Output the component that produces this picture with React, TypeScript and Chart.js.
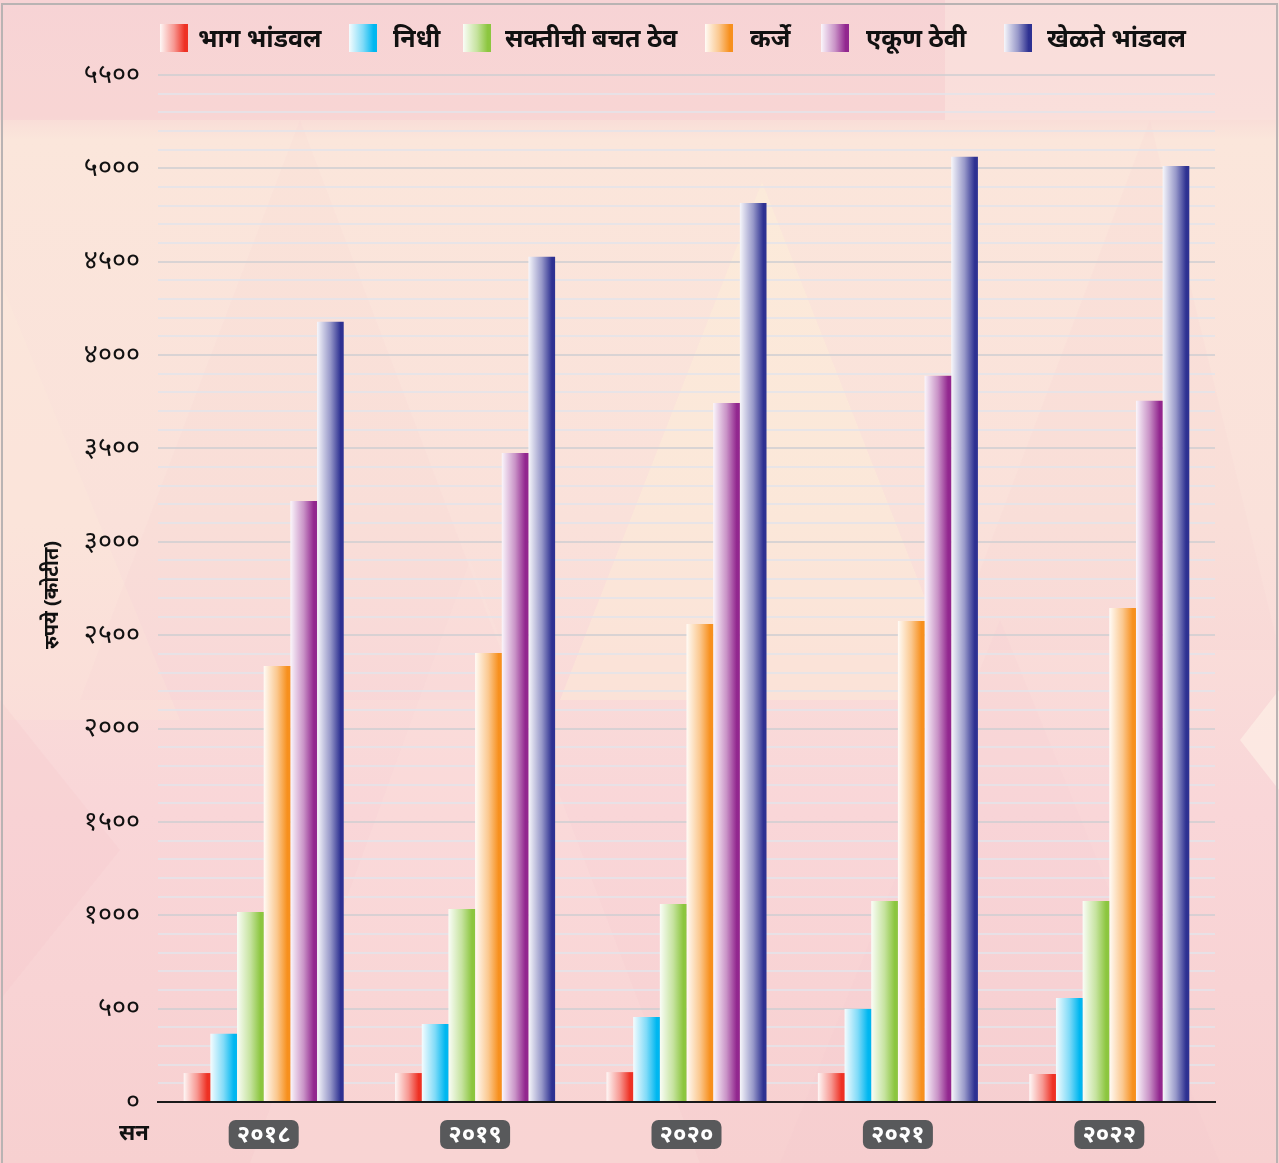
import React, { useEffect, useRef } from "react";
import { Chart, registerables } from "chart.js";

Chart.register(...registerables);

// ---- data ----
const categories = ["२०१८", "२०१९", "२०२०", "२०२१", "२०२२"];
const seriesNames = ["भाग भांडवल", "निधी", "सक्तीची बचत ठेव", "कर्जे", "एकूण ठेवी", "खेळते भांडवल"];
const shareCapital = [155, 155, 160, 155, 150];
const funds = [365, 418, 455, 498, 557];
const compulsorySavings = [1018, 1034, 1060, 1077, 1077];
const loans = [2335, 2405, 2560, 2576, 2646];
const totalDeposits = [3219, 3476, 3744, 3889, 3755];
const workingCapital = [4178, 4526, 4815, 5062, 5013];
const seriesColors = ["#ee3124", "#00b7f0", "#8cc63f", "#f7901e", "#92278f", "#2e3192"];
const yTickValues = [0, 500, 1000, 1500, 2000, 2500, 3000, 3500, 4000, 4500, 5000, 5500];
const yTickLabels = ["०", "५००", "१०००", "१५००", "२०००", "२५००", "३०००", "३५००", "४०००", "४५००", "५०००", "५५००"];
const yAxisTitle = "रुपये (कोटीत)";
const xAxisTitle = "सन";

const W = 1279;
const H = 1163;
const CAT_PCT = 0.757;
const FONT = "'Noto Sans', 'DejaVu Sans', sans-serif";

function mix(hex: string, t: number) {
  const r = parseInt(hex.slice(1, 3), 16);
  const g = parseInt(hex.slice(3, 5), 16);
  const b = parseInt(hex.slice(5, 7), 16);
  const m = (c: number) => Math.round(255 + (c - 255) * t);
  return `rgb(${m(r)},${m(g)},${m(b)})`;
}

function gradFill(ctx: CanvasRenderingContext2D, left: number, w: number, color: string) {
  const g = ctx.createLinearGradient(left, 0, left + w, 0);
  g.addColorStop(0, mix(color, 0.04));
  g.addColorStop(0.5, mix(color, 0.5));
  g.addColorStop(0.88, color);
  g.addColorStop(1, color);
  return g;
}

const backgroundPlugin = {
  id: "bgPaint",
  beforeDraw(chart: any) {
    const ctx = chart.ctx as CanvasRenderingContext2D;
    ctx.save();
    const g = ctx.createLinearGradient(0, 0, 0, H);
    g.addColorStop(0, "#f8d9d8");
    g.addColorStop(0.1, "#f9dcd7");
    g.addColorStop(0.12, "#fbe6db");
    g.addColorStop(0.45, "#fae1da");
    g.addColorStop(0.7, "#f9d6d8");
    g.addColorStop(1, "#f7d0d0");
    ctx.fillStyle = g;
    ctx.fillRect(0, 0, W, H);
    // top band
    ctx.fillStyle = "rgba(245,200,205,0.3)";
    ctx.fillRect(0, 0, 945, 120);
    ctx.fillStyle = "rgba(252,228,226,0.35)";
    ctx.fillRect(945, 0, 334, 120);
    const tri = (pts: number[][], col: string) => {
      ctx.beginPath();
      ctx.moveTo(pts[0][0], pts[0][1]);
      for (let i = 1; i < pts.length; i++) ctx.lineTo(pts[i][0], pts[i][1]);
      ctx.closePath();
      ctx.fillStyle = col;
      ctx.fill();
    };
    tri([[762, 182], [560, 700], [965, 700]], "rgba(255,244,214,0.3)");
    tri([[0, 280], [0, 720], [180, 720]], "rgba(255,240,220,0.2)");
    tri([[300, 120], [80, 700], [520, 700]], "rgba(245,195,205,0.08)");
    tri([[1150, 120], [950, 650], [1279, 650]], "rgba(245,200,210,0.1)");
    tri([[470, 560], [250, 1163], [700, 1163]], "rgba(255,235,225,0.15)");
    tri([[1000, 620], [780, 1163], [1220, 1163]], "rgba(245,195,205,0.1)");
    tri([[0, 700], [0, 1000], [120, 850]], "rgba(240,185,195,0.15)");
    tri([[1279, 690], [1279, 790], [1240, 740]], "rgba(255,248,235,0.5)");
    // border
    ctx.strokeStyle = "#b9b3b3";
    ctx.lineWidth = 2;
    ctx.strokeRect(2, 4, 1275, H + 10);
    ctx.restore();
  },
};

const decorPlugin = {
  id: "decor",
  afterDraw(chart: any) {
    const ctx = chart.ctx as CanvasRenderingContext2D;
    const xs = chart.scales.x;
    ctx.save();
    // legend
    const boxX = [160, 349, 463, 705, 821, 1004];
    const textX = [198, 393, 505, 750, 866, 1047];
    ctx.font = `bold 25px ${FONT}`;
    ctx.textBaseline = "middle";
    ctx.textAlign = "left";
    seriesNames.forEach((name, i) => {
      const x = boxX[i];
      ctx.fillStyle = gradFill(ctx, x, 28, seriesColors[i]);
      ctx.fillRect(x, 24, 28, 28);
      ctx.fillStyle = "#111";
      ctx.fillText(name, textX[i], 40);
    });
    // category label boxes
    ctx.font = `bold 24px ${FONT}`;
    ctx.textAlign = "center";
    categories.forEach((c, i) => {
      const cx = xs.getPixelForValue(i);
      ctx.fillStyle = "#58595b";
      ctx.beginPath();
      (ctx as any).roundRect(cx - 35, 1120, 70, 29, 7);
      ctx.fill();
      ctx.fillStyle = "#ffffff";
      ctx.fillText(c, cx, 1135);
    });
    // x title
    ctx.fillStyle = "#111";
    ctx.font = `bold 22px ${FONT}`;
    ctx.fillText(xAxisTitle, 134, 1134);
    // y title
    ctx.translate(52, 595);
    ctx.rotate(-Math.PI / 2);
    ctx.font = `bold 20px ${FONT}`;
    ctx.fillText(yAxisTitle, 0, 0);
    ctx.restore();
  },
};

export default function App() {
  const ref = useRef<HTMLCanvasElement>(null);
  useEffect(() => {
    const canvas = ref.current!;
    const series = [shareCapital, funds, compulsorySavings, loans, totalDeposits, workingCapital];
    const chart = new Chart(canvas, {
      type: "bar",
      data: {
        labels: categories,
        datasets: series.map((d, di) => ({
          label: seriesNames[di],
          data: d,
          borderWidth: 0,
          barPercentage: 1,
          categoryPercentage: CAT_PCT,
          backgroundColor: (c: any) => {
            const ch = c.chart;
            const xs = ch.scales && ch.scales.x;
            if (!xs || c.dataIndex === undefined || !xs.width) return seriesColors[di];
            const catW = xs.width / categories.length;
            const groupW = catW * CAT_PCT;
            const barW = groupW / series.length;
            const left = xs.getPixelForValue(c.dataIndex) - groupW / 2 + c.datasetIndex * barW;
            return gradFill(ch.ctx, left, barW, seriesColors[di]);
          },
        })),
      },
      options: {
        responsive: false,
        animation: false,
        devicePixelRatio: 1,
        layout: { padding: { top: 75, right: 64, bottom: 0, left: 0 } },
        plugins: { legend: { display: false }, tooltip: { enabled: false } },
        scales: {
          x: {
            grid: { display: false },
            border: { display: true, color: "#1a1a1a", width: 2 },
            ticks: { display: false },
            afterFit: (s: any) => {
              s.height = 61;
            },
          },
          y: {
            min: 0,
            max: 5500,
            border: { display: false },
            afterFit: (s: any) => {
              s.width = 158;
            },
            afterBuildTicks: (s: any) => {
              const t: any[] = [];
              for (let v = 0; v <= 5500; v += 100) t.push({ value: v });
              s.ticks = t;
            },
            grid: {
              drawTicks: false,
              lineWidth: 2,
              color: (c: any) =>
                c.tick && c.tick.value % 500 === 0 ? "rgba(205,205,210,0.75)" : "rgba(228,228,234,0.8)",
            },
            ticks: {
              autoSkip: false,
              padding: 18,
              color: "#111",
              font: { family: FONT, size: 27 },
              callback: (v: any) => {
                const idx = yTickValues.indexOf(Number(v));
                return idx >= 0 ? yTickLabels[idx] : "";
              },
            },
          },
        },
      },
      plugins: [backgroundPlugin, decorPlugin],
    } as any);
    return () => chart.destroy();
  }, []);
  return (
    <div style={{ position: "absolute", left: 0, top: 0, width: W, height: H }}>
      <canvas ref={ref} width={W} height={H} style={{ display: "block", width: W, height: H }} />
    </div>
  );
}
